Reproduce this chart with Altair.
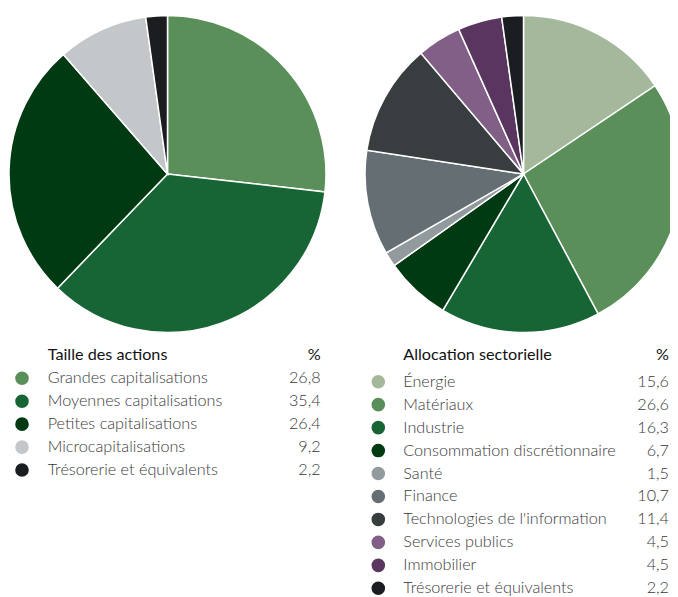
import altair as alt
import pandas as pd

size_title = "Taille des actions"
size_labels = ["Grandes capitalisations", "Moyennes capitalisations", "Petites capitalisations",
               "Microcapitalisations", "Trésorerie et équivalents"]
size_values = [26.8, 35.4, 26.4, 9.2, 2.2]
size_colors = ["#5a8f5a", "#176535", "#003a12", "#c4c7c9", "#1a1e21"]

sector_title = "Allocation sectorielle"
sector_labels = ["Énergie", "Matériaux", "Industrie", "Consommation discrétionnaire", "Santé",
                 "Finance", "Technologies de l'information", "Services publics", "Immobilier",
                 "Trésorerie et équivalents"]
sector_values = [15.6, 26.6, 16.3, 6.7, 1.5, 10.7, 11.4, 4.5, 4.5, 2.2]
sector_colors = ["#a4b99c", "#5a8f5a", "#176535", "#003a12", "#939a9e", "#656f73",
                 "#383e40", "#815f86", "#5a3560", "#1a1e21"]

FONT = "Lato"
FS = 16.2
R = 158.5


def make_df(labels, values):
    return pd.DataFrame({
        "label": labels,
        "value": values,
        "order": list(range(len(labels))),
        "txt": [f"{v:.1f}".replace(".", ",") for v in values],
    })


def pie(df, labels, colors, w, h, cx=None):
    enc = dict(
        theta=alt.Theta("value:Q", stack=True),
        color=alt.Color("label:N", scale=alt.Scale(domain=labels, range=colors), legend=None),
        order=alt.Order("order:Q"),
    )
    if cx is not None:
        enc["x"] = alt.value(cx)
    return alt.Chart(df).mark_arc(outerRadius=R, stroke="white", strokeWidth=1.5,
                                  clip=True).encode(**enc).properties(width=w, height=h)


def table(df, labels, colors, title, w, h, dot_x, label_x, value_x, head_y):
    base = alt.Chart(df).encode(
        y=alt.Y("label:N", sort=labels,
                scale=alt.Scale(type="point", domain=labels, padding=0), axis=None)
    )
    dots = base.mark_circle(size=185, opacity=1).encode(
        x=alt.value(dot_x),
        color=alt.Color("label:N", scale=alt.Scale(domain=labels, range=colors), legend=None),
    )
    names = base.mark_text(align="left", baseline="middle", font=FONT, fontSize=FS,
                           fontWeight=300, color="#3a3a3a").encode(
        x=alt.value(label_x), text="label:N")
    vals = base.mark_text(align="right", baseline="middle", font=FONT, fontSize=FS,
                          fontWeight=300, color="#3a3a3a").encode(
        x=alt.value(value_x), text="txt:N")
    head_df = pd.DataFrame({"t": [title], "p": ["%"]})
    head = alt.Chart(head_df).mark_text(align="left", baseline="middle", font=FONT,
                                        fontSize=FS, fontWeight=400, color="#111111").encode(
        x=alt.value(label_x), y=alt.value(head_y), text="t:N")
    pct = alt.Chart(head_df).mark_text(align="right", baseline="middle", font=FONT,
                                       fontSize=FS, fontWeight=400, color="#111111").encode(
        x=alt.value(value_x), y=alt.value(head_y), text="p:N")
    return alt.layer(dots, names, vals, head, pct).resolve_scale(color="independent").properties(
        width=w, height=h)


df_size = make_df(size_labels, size_values)
df_sector = make_df(sector_labels, sector_values)

left = alt.vconcat(
    pie(df_size, size_labels, size_colors, 319, 332),
    table(df_size, size_labels, size_colors, size_title, 319, 91.7, 14, 39.7, 312.7, -23.3),
    spacing=38.3, bounds="flush",
).resolve_scale(color="independent")

right = alt.vconcat(
    pie(df_sector, sector_labels, sector_colors, 305, 332, cx=158.5),
    table(df_sector, sector_labels, sector_colors, sector_title, 305, 206.6, 13.3, 38.3, 304, -26.7),
    spacing=41.7, bounds="flush",
).resolve_scale(color="independent")

chart = alt.hconcat(left, right, spacing=38).resolve_scale(
    color="independent"
).properties(padding=0).configure_view(stroke=None)

chart.save("out.html", embed_options={"renderer": "svg", "actions": False})
